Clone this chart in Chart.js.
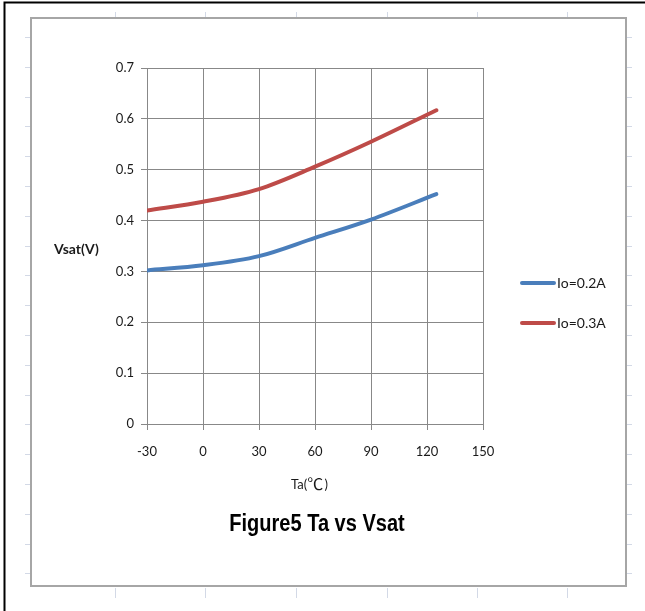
<!DOCTYPE html>
<html>
<head>
<meta charset="utf-8">
<title>Figure5 Ta vs Vsat</title>
<script src="https://cdn.jsdelivr.net/npm/chart.js@4/dist/chart.umd.min.js"></script>
<style>
    html, body { margin: 0; padding: 0; background: #ffffff; }
    #wrap { width: 645px; height: 611px; position: relative; }
</style>
</head>
<body>
<div id="wrap"><canvas id="vsat-chart" width="645" height="611"></canvas></div>
<script>
// Data
const temps = [-30, 0, 30, 60, 90, 125];
const vsatLow = [0.302, 0.312, 0.330, 0.366, 0.402, 0.452];   // Io=0.2A
const vsatHigh = [0.420, 0.437, 0.462, 0.506, 0.555, 0.617];  // Io=0.3A
const seriesLabels = ['Io=0.2A', 'Io=0.3A'];
const yTickLabels = ['0', '0.1', '0.2', '0.3', '0.4', '0.5', '0.6', '0.7'];
const xTickLabels = ['-30', '0', '30', '60', '90', '120', '150'];

const BLUE = '#4a7ebb';
const RED = '#be4b48';
const GRID = '#888888';
const TEXT = '#1a1a1a';

function toPoints(values) {
    return values.map((v, i) => ({ x: temps[i], y: v }));
}

// Page frame, ruler marks, titles and legend drawn around the plot
const decorations = {
    id: 'decorations',
    beforeDraw(chart) {
        const ctx = chart.ctx;
        ctx.save();
        ctx.fillStyle = '#ffffff';
        ctx.fillRect(0, 0, chart.width, chart.height);

        // black border (top and left)
        ctx.strokeStyle = '#000000';
        ctx.lineWidth = 2;
        ctx.beginPath();
        ctx.moveTo(4.5, 611);
        ctx.lineTo(4.5, 2.5);
        ctx.lineTo(645, 2.5);
        ctx.stroke();

        // faint ruler ticks
        ctx.strokeStyle = '#d3d9e6';
        ctx.lineWidth = 1;
        ctx.beginPath();
        [115, 205, 296, 387, 477, 567].forEach(x => {
            ctx.moveTo(x + 0.5, 12); ctx.lineTo(x + 0.5, 17);
            ctx.moveTo(x + 0.5, 588); ctx.lineTo(x + 0.5, 598);
        });
        for (let y = 37; y < 585; y += 29.8) {
            const yy = Math.round(y) + 0.5;
            ctx.moveTo(25, yy); ctx.lineTo(30, yy);
            ctx.moveTo(627, yy); ctx.lineTo(632, yy);
        }
        ctx.stroke();

        // chart box
        ctx.strokeStyle = '#a6a6a6';
        ctx.lineWidth = 2;
        ctx.strokeRect(31, 18, 595, 568);
        ctx.restore();
    },
    afterDraw(chart) {
        const ctx = chart.ctx;
        ctx.save();
        ctx.fillStyle = TEXT;

        // y axis title (horizontal, like Excel)
        ctx.font = 'bold 14px Lato, "Liberation Sans", sans-serif';
        ctx.textAlign = 'left';
        ctx.textBaseline = 'middle';
        ctx.fillText('Vsat(V)', 54, 249);

        // x axis title, the degree sign is a wide CJK glyph in the original
        ctx.textAlign = 'left';
        ctx.font = '13px Lato, "Liberation Sans", sans-serif';
        ctx.fillText('Ta(', 291, 485);
        const w1 = ctx.measureText('Ta(').width;
        ctx.font = '16px "Noto Sans CJK SC", sans-serif';
        ctx.fillText('℃', 291 + w1, 484);
        const w2 = ctx.measureText('℃').width;
        ctx.font = '13px Lato, "Liberation Sans", sans-serif';
        ctx.fillText(' )', 291 + w1 + w2 - 2, 485);

        // figure title, squeezed to look like a narrow bold face
        ctx.save();
        ctx.translate(317, 525);
        ctx.scale(0.87, 1);
        ctx.font = 'bold 23px "Liberation Sans", sans-serif';
        ctx.textAlign = 'center';
        ctx.fillStyle = '#000000';
        ctx.fillText('Figure5 Ta vs Vsat', 0, 0);
        ctx.restore();

        // legend
        const colors = [BLUE, RED];
        const rows = [283, 323];
        ctx.font = '14px Lato, "Liberation Sans", sans-serif';
        ctx.textAlign = 'left';
        chart.data.datasets.forEach((ds, i) => {
            ctx.strokeStyle = colors[i];
            ctx.lineWidth = 4;
            ctx.lineCap = 'round';
            ctx.beginPath();
            ctx.moveTo(522, rows[i]);
            ctx.lineTo(554, rows[i]);
            ctx.stroke();
            ctx.fillStyle = TEXT;
            ctx.fillText(ds.label, 557, rows[i]);
        });
        ctx.restore();
    }
};

const ctx = document.getElementById('vsat-chart').getContext('2d');
const vsatChart = new Chart(ctx, {
    type: 'line',
    data: {
        datasets: [{
            label: seriesLabels[0],
            data: toPoints(vsatLow),
            borderColor: BLUE,
            backgroundColor: BLUE,
            borderWidth: 4,
            borderCapStyle: 'round',
            pointRadius: 0,
            cubicInterpolationMode: 'monotone',
            fill: false
        }, {
            label: seriesLabels[1],
            data: toPoints(vsatHigh),
            borderColor: RED,
            backgroundColor: RED,
            borderWidth: 4,
            borderCapStyle: 'round',
            pointRadius: 0,
            cubicInterpolationMode: 'monotone',
            fill: false
        }]
    },
    options: {
        responsive: false,
        animation: false,
        layout: {
            padding: { left: 100, right: 162, top: 68, bottom: 147 }
        },
        plugins: {
            legend: { display: false },
            tooltip: { enabled: false }
        },
        scales: {
            x: {
                type: 'linear',
                min: -30,
                max: 150,
                afterFit: s => { s.height = 40; },
                afterBuildTicks: s => {
                    s.ticks = xTickLabels.map(t => ({ value: Number(t) }));
                },
                ticks: {
                    stepSize: 30,
                    padding: 14,
                    color: TEXT,
                    font: { family: 'Lato, "Liberation Sans", sans-serif', size: 13 },
                    callback: (v) => xTickLabels[xTickLabels.indexOf(String(v))] ?? ''
                },
                grid: { color: GRID, tickLength: 6, tickColor: GRID },
                border: { color: GRID }
            },
            y: {
                min: 0,
                max: 0.7,
                afterFit: s => { s.width = 47; },
                afterBuildTicks: s => {
                    s.ticks = yTickLabels.map(t => ({ value: Number(t) }));
                },
                ticks: {
                    stepSize: 0.1,
                    padding: 7,
                    color: TEXT,
                    font: { family: 'Lato, "Liberation Sans", sans-serif', size: 13 },
                    callback: (v, i) => yTickLabels[i]
                },
                grid: { color: GRID, tickLength: 6, tickColor: GRID },
                border: { color: GRID }
            }
        }
    },
    plugins: [decorations]
});
</script>
</body>
</html>
